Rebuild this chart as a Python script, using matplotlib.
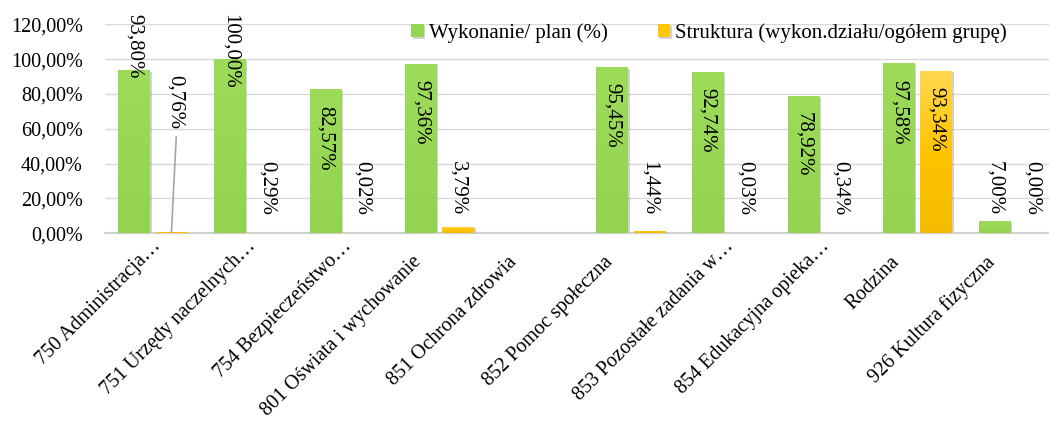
import numpy as np
import matplotlib
matplotlib.use("Agg")
import matplotlib.pyplot as plt
from matplotlib.ticker import FuncFormatter
from matplotlib.colors import LinearSegmentedColormap
from matplotlib.transforms import ScaledTranslation
import matplotlib.patheffects as pe

plt.rcParams['font.family'] = ['Liberation Serif', 'DejaVu Serif']

# dane: dzialy budzetu
dzialy = ["750 Administracja…", "751 Urzędy naczelnych…", "754 Bezpieczeństwo…",
          "801 Oświata i wychowanie", "851 Ochrona zdrowia", "852 Pomoc społeczna",
          "853 Pozostałe zadania w…", "854 Edukacyjna opieka…", "Rodzina",
          "926 Kultura fizyczna"]
wykonanie = [93.80, 100.00, 82.57, 97.36, np.nan, 95.45, 92.74, 78.92, 97.58, 7.00]
struktura = [0.76, 0.29, 0.02, 3.79, np.nan, 1.44, 0.03, 0.34, 93.34, 0.00]

fmt = lambda v: f"{v:.2f}".replace(".", ",") + "%"

fig = plt.figure(figsize=(10.49, 4.21), dpi=100)
ax = fig.add_axes([105 / 1049, 1 - 233.3 / 421, 956 / 1049, 209 / 421])

x = np.arange(len(dzialy))
off, w = 0.195, 0.33

green_cm = LinearSegmentedColormap.from_list("g", ["#9DDC5B", "#93D34F"])
yellow_cm = LinearSegmentedColormap.from_list("y", ["#FFD850", "#FFC400", "#F4BB00"])
shadow = [pe.SimplePatchShadow(offset=(1.2, -1.2), shadow_rgbFace="#7f7f7f", alpha=0.35), pe.Normal()]


def gradient_bars(xs, vals, cmap, color, label):
    bars = ax.bar(xs, np.nan_to_num(vals), width=w, color=color, label=label, zorder=2)
    grad = np.linspace(0, 1, 64).reshape(-1, 1)  # jasniej u gory
    for b, v in zip(bars, vals):
        b.set_path_effects(shadow)
        if np.isnan(v):
            b.set_visible(False)
            continue
        if v <= 0:
            continue
        im = ax.imshow(grad, cmap=cmap, aspect="auto", zorder=3, origin="upper",
                       extent=[b.get_x(), b.get_x() + w, 0, v])
        im.set_clip_path(b)
    return bars


gradient_bars(x - off, wykonanie, green_cm, "#95D552", "Wykonanie/ plan (%)")
gradient_bars(x + off, struktura, yellow_cm, "#FFC60A", "Struktura (wykon.działu/ogółem grupę)")

# etykiety danych
for xs, vals in ((x - off, wykonanie), (x + off, struktura)):
    for xi, v in zip(xs, vals):
        if np.isnan(v):
            continue
        if v > 20:
            ax.text(xi, v - 9.3, fmt(v), rotation=270, ha="center", va="top",
                    fontsize=15, zorder=5)
        else:
            ax.text(xi, 10.5, fmt(v), rotation=270, ha="center", va="bottom",
                    fontsize=15, zorder=5)

# recznie przesuniete etykiety
for t in ax.texts[:]:
    s = t.get_text()
    if s in ("93,80%", "100,00%"):
        t.set_y(126.0)
        t.set_clip_on(False)
    if s == "0,76%":
        t.set_position((x[0] + off + 0.04, 90.9))
        t.set_va("top")
ax.plot([x[0] + off + 0.05, x[0] + off], [55.3, 0.7], color="#A6A6A6", lw=1.2, zorder=4)

ax.set_xlim(-0.5, len(dzialy) - 0.5)
ax.set_ylim(0, 120)
ax.set_yticks(np.arange(0, 121, 20))
ax.yaxis.set_major_formatter(FuncFormatter(lambda v, p: fmt(v)))
ax.set_xticks(x)
ax.set_xticklabels(dzialy, rotation=45, ha="right", va="center", rotation_mode="anchor")
ax.tick_params(length=0, colors="black")
ax.tick_params(axis="x", pad=0, labelsize=14.5)
ax.tick_params(axis="y", pad=16, labelsize=14.5)
for lab in ax.get_xticklabels():
    if lab.get_text().endswith("…"):
        dx, dy = 5, -10
    else:
        dx, dy = -21, -26
    lab.set_transform(lab.get_transform() + ScaledTranslation(dx / 100, dy / 100, fig.dpi_scale_trans))

ax.grid(axis="y", color="#D9D9D9", lw=1.0, zorder=0)
ax.set_axisbelow(True)
for s in ("top", "right", "left"):
    ax.spines[s].set_visible(False)
ax.spines["bottom"].set_color("#D0D0D0")
ax.spines["bottom"].set_linewidth(1.5)

ax.legend(loc="center", bbox_to_anchor=(0.632, 0.958), ncol=2, frameon=False,
          fontsize=15, handlelength=0.6, handleheight=0.6, handletextpad=0.25,
          columnspacing=2.4)

fig.savefig("out.png", dpi=100)
